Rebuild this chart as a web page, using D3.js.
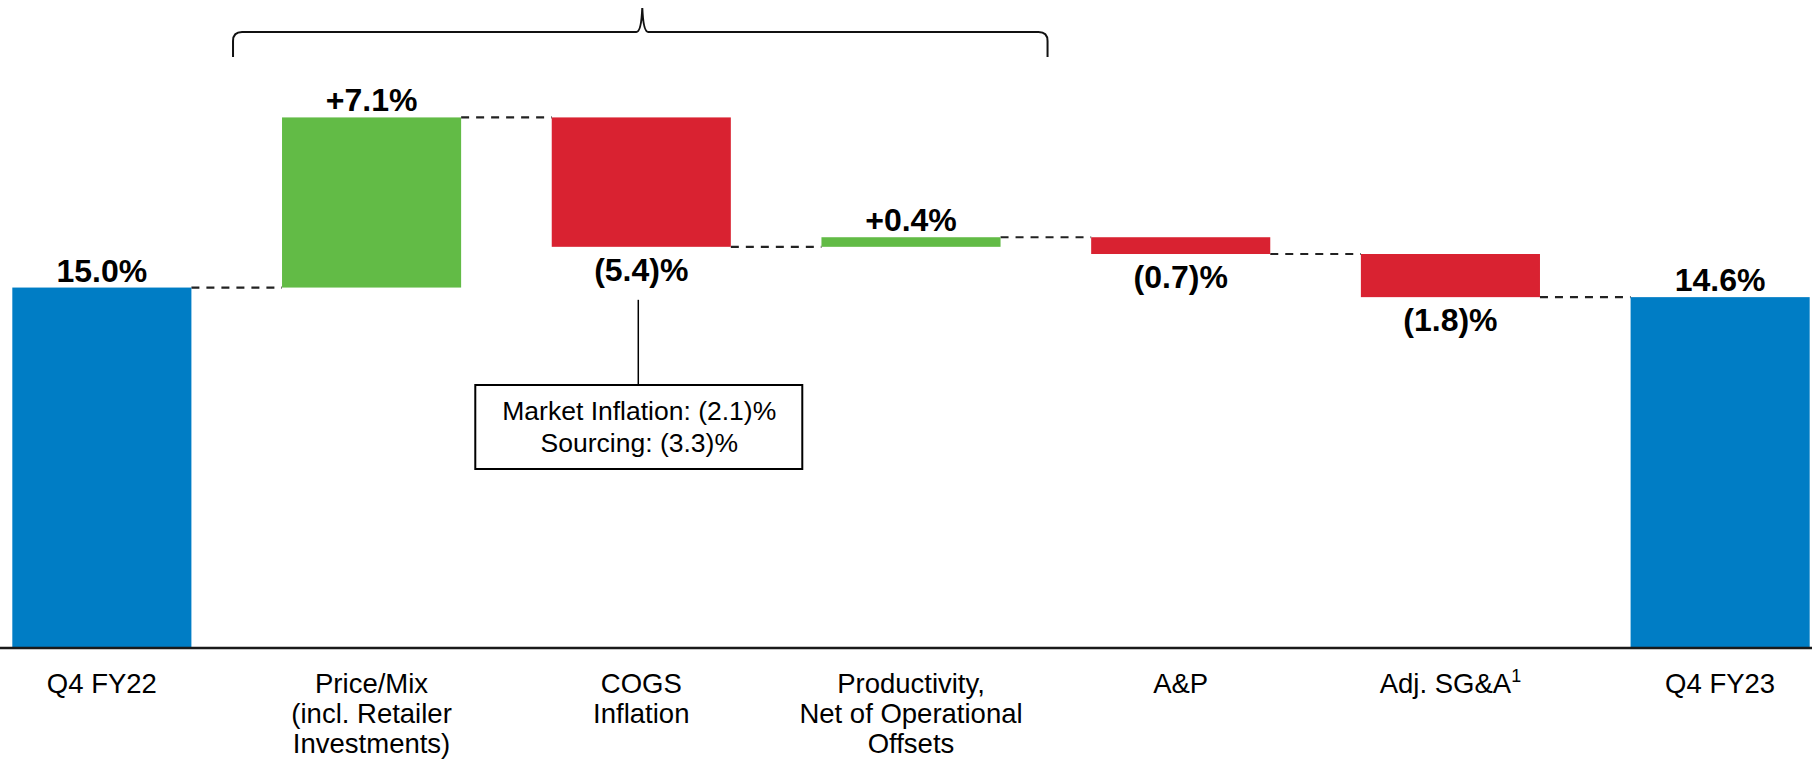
<!DOCTYPE html>
<html>
<head>
<meta charset="utf-8">
<script src="https://cdn.jsdelivr.net/npm/d3@7"></script>
<style>
  html, body { margin: 0; padding: 0; background: #fff; }
  svg { display: block; font-family: "Liberation Sans", Arial, sans-serif; }
</style>
</head>
<body>
<svg id="chart" width="1812" height="760"></svg>
<script>
// Gross margin bridge, Q4 FY22 -> Q4 FY23 (percentage points)
const categories = ["Q4 FY22", "Price/Mix", "COGS Inflation", "Productivity", "A&P", "Adj. SG&A", "Q4 FY23"];
const categoryLines = [
  ["Q4 FY22"],
  ["Price/Mix", "(incl. Retailer", "Investments)"],
  ["COGS", "Inflation"],
  ["Productivity,", "Net of Operational", "Offsets"],
  ["A&P"],
  ["Adj. SG&A"],
  ["Q4 FY23"]
];
const footnotes = [null, null, null, null, null, "1", null];
const values = [15.0, 7.1, -5.4, 0.4, -0.7, -1.8, 14.6];
const kinds = ["total", "delta", "delta", "delta", "delta", "delta", "total"];

// COGS inflation breakdown shown in the callout box
const cogsParts = ["Market Inflation", "Sourcing"];
const cogsPartValues = [-2.1, -3.3];

// Steps grouped by the brace at the top
const bracedFrom = "Price/Mix";
const bracedTo = "Productivity";

const colors = { total: "#007DC5", up: "#62BB46", down: "#D92231" };

const svg = d3.select("#chart");
const W = 1812, H = 760;

const x = d3.scaleBand()
  .domain(categories)
  .range([-33, 1855])
  .paddingInner(0.336)
  .paddingOuter(0.168);

const y = d3.scaleLinear().domain([0, 27]).range([647, 0]);

// Build waterfall segments from the running total
let running = 0;
const bars = categories.map((c, i) => {
  const v = values[i];
  let start, end;
  if (kinds[i] === "total") { start = 0; end = v; running = v; }
  else { start = running; end = running + v; running = end; }
  return { cat: c, value: v, kind: kinds[i], start, end,
           lo: Math.min(start, end), hi: Math.max(start, end) };
});

const fmtPct = (v, kind) => {
  const s = Math.abs(v).toFixed(1);
  if (kind === "total") return s + "%";
  return v >= 0 ? "+" + s + "%" : "(" + s + ")%";
};

// Dashed connectors between consecutive bars
const conn = svg.append("g");
for (let i = 0; i < bars.length - 1; i++) {
  const level = bars[i].end;
  conn.append("line")
    .attr("x1", x(bars[i].cat) + x.bandwidth())
    .attr("x2", x(bars[i + 1].cat))
    .attr("y1", y(level)).attr("y2", y(level))
    .attr("stroke", "#222").attr("stroke-width", 2.2)
    .attr("stroke-dasharray", "8,7");
}

// Bars
svg.append("g").selectAll("rect").data(bars).join("rect")
  .attr("x", d => x(d.cat))
  .attr("width", x.bandwidth())
  .attr("y", d => y(d.hi))
  .attr("height", d => y(d.lo) - y(d.hi))
  .attr("fill", d => d.kind === "total" ? colors.total : (d.value >= 0 ? colors.up : colors.down));

// Baseline
svg.append("line")
  .attr("x1", 0).attr("x2", W)
  .attr("y1", y(0) + 1).attr("y2", y(0) + 1)
  .attr("stroke", "#1a1a1a").attr("stroke-width", 2.5);

// Value labels
svg.append("g").selectAll("text").data(bars).join("text")
  .attr("x", d => x(d.cat) + x.bandwidth() / 2)
  .attr("y", d => (d.kind === "total" || d.value >= 0) ? y(d.hi) - 6 : y(d.lo) + 34)
  .attr("text-anchor", "middle")
  .attr("font-weight", "bold")
  .attr("font-size", 32)
  .attr("fill", "#000")
  .text(d => fmtPct(d.value, d.kind));

// Category labels
const catG = svg.append("g");
categories.forEach((c, i) => {
  const t = catG.append("text")
    .attr("x", x(c) + x.bandwidth() / 2)
    .attr("y", 693)
    .attr("text-anchor", "middle")
    .attr("font-size", 27.5)
    .attr("fill", "#000");
  categoryLines[i].forEach((line, j) => {
    t.append("tspan")
      .attr("x", x(c) + x.bandwidth() / 2)
      .attr("dy", j === 0 ? 0 : 30)
      .text(line);
    if (j === 0 && footnotes[i]) {
      t.append("tspan").attr("font-size", 18).attr("dy", -11).text(footnotes[i]);
    }
  });
});

// Callout for COGS breakdown
const cogs = bars[2];
const cx = x(cogs.cat) + x.bandwidth() / 2 - 3;
const boxW = 327, boxH = 84, boxTop = 385;
svg.append("line")
  .attr("x1", cx).attr("x2", cx)
  .attr("y1", y(cogs.lo) + 53).attr("y2", boxTop)
  .attr("stroke", "#000").attr("stroke-width", 1.5);
svg.append("rect")
  .attr("x", cx - boxW / 2 + 0.5).attr("y", boxTop)
  .attr("width", boxW).attr("height", boxH)
  .attr("fill", "#fff").attr("stroke", "#000").attr("stroke-width", 2);
cogsParts.forEach((p, i) => {
  svg.append("text")
    .attr("x", cx + 1).attr("y", boxTop + 35 + i * 32)
    .attr("text-anchor", "middle")
    .attr("font-size", 26.5)
    .attr("fill", "#000")
    .text(p + ": " + fmtPct(cogsPartValues[i], "delta"));
});

// Brace over the margin drivers
const bx0 = x(bracedFrom) - 49;
const bx1 = x(bracedTo) + x.bandwidth() + 47;
const bmid = x(categories[2]) + x.bandwidth() / 2 + 1;
const by = 32, bEnd = 57, bTip = 8;
const bracePath = [
  `M${bx0},${bEnd}`, `L${bx0},${by + 9}`,
  `Q${bx0},${by} ${bx0 + 9},${by}`,
  `L${bmid - 6},${by}`,
  `Q${bmid - 1},${by} ${bmid},${bTip}`,
  `Q${bmid + 1},${by} ${bmid + 6},${by}`,
  `L${bx1 - 9},${by}`,
  `Q${bx1},${by} ${bx1},${by + 9}`,
  `L${bx1},${bEnd}`
].join(" ");
svg.append("path")
  .attr("d", bracePath)
  .attr("fill", "none").attr("stroke", "#111").attr("stroke-width", 2);
</script>
</body>
</html>
